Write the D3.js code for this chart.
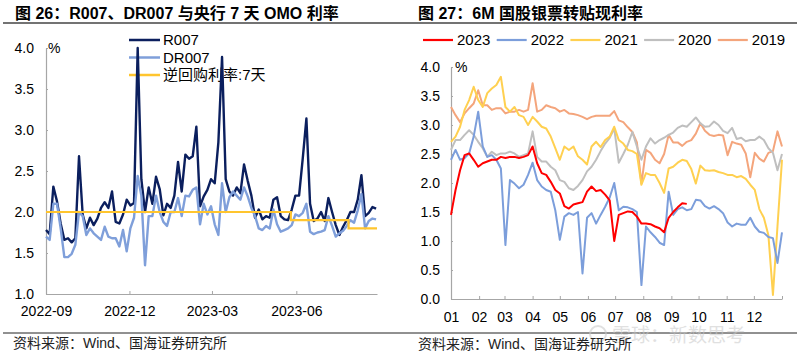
<!DOCTYPE html>
<html><head><meta charset="utf-8">
<script src="https://cdn.jsdelivr.net/npm/d3@7"></script>
<style>
html,body{margin:0;padding:0;background:#fff;}
svg{display:block;}
text{font-family:"Liberation Sans",Arial,"Noto Sans CJK SC",sans-serif;}
</style></head>
<body>
<svg id="c" width="800" height="357"></svg>
<script>
// ---------- Left chart data (every 4 days from 2022-09-01) ----------
const leftStart = "2022-09-01";
const leftStepDays = 4;
const r007 = [1.78,1.73,2.31,2.13,1.86,1.66,1.68,1.63,1.68,2.68,
  1.97,1.80,1.93,1.84,1.92,2.05,2.12,2.05,2.25,1.88,
  1.86,1.97,2.15,2.08,2.11,4.0,2.4,2.0,2.3,2.1,
  2.43,2.28,1.96,2.1,2.05,2.2,2.61,2.25,2.70,2.65,
  2.68,3.04,2.07,2.19,2.27,2.40,2.35,2.85,3.89,2.4,
  2.25,2.2,2.3,2.23,2.58,2.38,2.2,1.93,2.03,1.91,
  1.95,1.93,2.15,2.18,1.95,1.91,1.9,2.03,2.2,2.2,
  2.65,3.14,2.1,1.89,1.92,2.0,1.89,2.17,2.0,1.84,
  1.72,1.82,1.9,2.0,2.0,2.15,2.45,1.95,1.99,2.06,2.04];
const dr007 = [1.70,1.66,2.1,2.1,1.80,1.45,1.45,1.49,1.60,2.0,
  1.95,1.72,1.80,1.74,1.70,1.66,1.82,1.70,1.68,1.68,
  1.58,1.78,1.52,1.80,1.93,2.44,2.2,1.35,1.95,1.95,
  2.2,2.0,1.88,1.83,2.0,2.0,2.17,1.95,2.2,2.19,
  2.27,2.3,1.85,2.1,1.97,2.07,1.85,1.72,2.35,2.0,
  2.18,2.25,2.2,2.15,2.3,2.19,2.05,1.95,1.8,1.78,
  1.83,1.80,2.03,1.85,1.76,1.78,1.80,1.84,1.97,1.95,
  1.99,2.1,1.76,1.73,1.75,1.76,1.78,1.95,1.83,1.7,
  1.74,1.77,1.83,1.9,1.87,2.02,2.22,1.8,1.89,1.92,1.91];
const omoDates = ["2022-09-01","2023-05-26","2023-07-28","2023-08-28"];
const omoValues = [2.0,1.9,1.8,1.8];
const leftTickDates = ["2022-09-01","2022-12-01","2023-03-01","2023-06-01"];
const leftYTicks = [1.0,1.5,2.0,2.5,3.0,3.5,4.0];
const leftLegend = ["R007","DR007","逆回购利率:7天"];

// ---------- Right chart data (every 5 days from Jan 1) ----------
const rightStepDays = 5;
const y2023 = [1.45,1.88,2.22,2.48,2.51,2.40,2.28,2.34,2.37,2.40,
  2.40,2.45,2.43,2.45,2.45,2.43,2.45,2.48,2.63,2.34,
  2.17,2.14,2.02,1.88,1.82,1.6,
  1.56,1.63,1.65,1.67,1.85,1.94,1.86,1.88,1.80,1.70,
  1.0,1.45,1.48,1.51,1.50,1.42,1.30,1.30,1.29,1.25,
  1.22,1.15,1.40,1.50,1.58,1.65,1.64];
const y2022 = [2.40,2.57,2.40,2.43,2.51,2.80,3.23,2.63,2.45,2.48,
  2.40,2.25,0.93,2.05,1.99,1.91,1.97,2.14,2.35,2.05,
  1.94,1.88,1.85,1.53,1.02,1.42,
  1.48,1.45,1.50,0.44,1.40,1.48,1.30,1.45,1.59,1.75,
  2.0,1.53,1.59,1.58,1.55,1.50,0.24,1.25,1.15,1.07,
  0.97,0.93,1.85,1.45,1.55,1.58,1.53,1.55,1.71,1.70,
  1.60,1.56,1.60,1.55,1.48,1.32,1.25,1.30,1.28,1.28,
  1.40,1.25,1.16,1.14,1.07,1.05,0.62,1.15];
const y2021 = [2.71,2.80,2.97,3.26,3.43,3.66,3.43,3.31,3.55,3.63,
  3.69,3.83,3.31,3.23,3.31,3.17,3.14,3.0,3.14,3.06,
  2.97,2.94,2.80,2.60,2.40,2.63,
  2.57,2.63,2.46,2.40,2.32,2.63,2.71,2.62,2.74,2.80,
  2.97,2.74,2.68,2.57,2.55,2.50,1.97,2.17,2.14,2.14,
  2.0,1.83,2.25,2.28,2.35,2.40,2.38,2.24,1.99,2.30,
  2.22,2.21,2.22,2.19,2.17,2.14,2.14,2.10,2.12,2.07,
  1.97,1.88,1.55,1.40,1.10,0.07,1.25,2.40];
const y2020 = [2.57,2.74,2.74,2.83,2.91,2.83,2.71,2.60,2.45,2.54,
  2.48,2.51,2.51,2.54,2.51,2.45,2.48,2.51,2.89,2.45,
  2.37,2.37,2.28,2.22,2.05,2.02,
  1.91,1.88,1.95,2.05,2.20,2.28,2.40,2.55,2.68,2.78,
  2.94,2.35,2.50,2.66,2.88,2.63,2.40,2.63,2.77,2.68,
  2.74,2.78,2.83,2.87,2.95,2.99,2.97,3.05,3.13,3.03,
  2.97,2.98,3.06,3.0,2.90,2.86,2.95,2.76,2.78,2.72,
  2.74,2.74,2.80,2.74,2.60,2.52,2.22,2.50];
const y2019 = [3.31,3.17,3.05,3.20,3.29,3.37,3.60,3.34,3.34,3.26,
  3.29,3.29,3.20,3.23,3.23,3.26,3.23,3.26,3.72,3.23,
  3.26,3.34,3.31,3.29,3.23,3.26,
  3.20,3.19,3.17,3.14,3.10,3.14,3.16,3.16,3.16,3.16,
  3.24,3.08,3.05,2.96,2.88,2.70,1.99,2.57,2.52,2.40,
  2.34,2.50,2.83,2.70,2.70,2.64,2.71,2.74,2.85,3.03,
  2.90,2.83,2.81,2.83,2.82,2.48,2.71,2.68,2.66,2.51,
  2.10,2.52,2.42,2.37,2.52,2.55,2.89,2.63];
const rightSeriesNames = ["2023","2022","2021","2020","2019"];
const rightYTicks = [0.0,0.5,1.0,1.5,2.0,2.5,3.0,3.5,4.0];
const rightMonths = ["01","02","03","04","05","06","07","08","09","10","11","12"];

// ---------- Drawing ----------
const svg = d3.select("#c");
const parse = d3.timeParse("%Y-%m-%d");
const AX = "#a6a6a6";

// titles and rules
svg.append("text").attr("x",15).attr("y",19).attr("font-size",16).attr("font-weight","bold")
  .text("图 26：R007、DR007 与央行 7 天 OMO 利率");
svg.append("text").attr("x",418).attr("y",19).attr("font-size",16).attr("font-weight","bold")
  .text("图 27：6M 国股银票转贴现利率");
svg.append("line").attr("x1",3).attr("x2",797).attr("y1",23).attr("y2",23).attr("stroke","#444").attr("stroke-width",1.5);
svg.append("line").attr("x1",3).attr("x2",797).attr("y1",333).attr("y2",333).attr("stroke","#222").attr("stroke-width",1);

// watermark
const wm = svg.append("g").attr("opacity",0.55);
wm.append("circle").attr("cx",598).attr("cy",334).attr("r",8).attr("fill","none").attr("stroke","#c8c8c8").attr("stroke-width",2);
wm.append("text").attr("x",612).attr("y",342).attr("font-size",19).attr("fill","#c8c8c8").text("雪球：新数思考");

svg.append("text").attr("x",13).attr("y",348).attr("font-size",14).attr("fill","#222").text("资料来源：Wind、国海证券研究所");
svg.append("text").attr("x",418).attr("y",349).attr("font-size",14).attr("fill","#222").text("资料来源：Wind、国海证券研究所");

function styleAxis(g){
  g.select(".domain").attr("stroke",AX).attr("stroke-width",1.2);
  g.selectAll(".tick line").attr("stroke",AX);
  g.selectAll(".tick text").attr("font-size",14).attr("fill","#000")
    .attr("font-family",'"Liberation Sans",Arial,sans-serif');
}

// ===== Left chart =====
const leftDates = r007.map((_,i)=>d3.timeDay.offset(parse(leftStart), i*leftStepDays));
const xL = d3.scaleTime().domain([parse("2022-09-01"), parse("2023-08-28")]).range([46,377]);
const yL = d3.scaleLinear().domain([1,4]).range([294,48]);

svg.append("g").attr("transform","translate(0,294)")
  .call(d3.axisBottom(xL).tickValues(leftTickDates.map(parse)).tickFormat(d3.timeFormat("%Y-%m"))
    .tickSizeInner(-3).tickSizeOuter(0).tickPadding(12))
  .call(styleAxis);
svg.append("g").attr("transform","translate(46,0)")
  .call(d3.axisLeft(yL).tickValues(leftYTicks).tickFormat(d3.format(".1f"))
    .tickSizeInner(-2).tickSizeOuter(0).tickPadding(12))
  .call(styleAxis);
svg.append("text").attr("x",48).attr("y",yL(4)).attr("dy","0.35em").attr("font-size",14).text("%");

const leftColors = ["#0b1f5e","#7f9fda","#ffc52e"];
// legend (behind lines)
leftLegend.forEach((name,i)=>{
  const ly = 40 + i*17.5;
  svg.append("line").attr("x1",129).attr("x2",160).attr("y1",ly).attr("y2",ly)
    .attr("stroke",leftColors[i]).attr("stroke-width",2.5);
  svg.append("text").attr("x",163).attr("y",ly).attr("dy","0.36em").attr("font-size",15).text(name);
});

const lineL = d3.line().x(d=>xL(d[0])).y(d=>yL(d[1]));
svg.append("path").datum(leftDates.map((d,i)=>[d,r007[i]])).attr("d",lineL)
  .attr("fill","none").attr("stroke",leftColors[0]).attr("stroke-width",2.4).attr("stroke-linejoin","round");
svg.append("path").datum(leftDates.map((d,i)=>[d,dr007[i]])).attr("d",lineL)
  .attr("fill","none").attr("stroke",leftColors[1]).attr("stroke-width",2.4).attr("stroke-linejoin","round");
svg.append("path").datum(omoDates.map((d,i)=>[parse(d),omoValues[i]]))
  .attr("d",d3.line().curve(d3.curveStepAfter).x(d=>xL(d[0])).y(d=>yL(d[1])))
  .attr("fill","none").attr("stroke",leftColors[2]).attr("stroke-width",2.2);

// ===== Right chart =====
const xR = d3.scaleTime().domain([new Date(2023,0,1), new Date(2024,0,1)]).range([451,782]);
const yR = d3.scaleLinear().domain([0,4]).range([299,67]);
const monthTicks = d3.range(0,13).map(m=>new Date(2023,m,1));

svg.append("g").attr("transform","translate(0,299)")
  .call(d3.axisBottom(xR).tickValues(monthTicks).tickFormat((d,i)=> i<12 ? rightMonths[i] : "")
    .tickSizeInner(-3).tickSizeOuter(0).tickPadding(13))
  .call(styleAxis);
svg.append("g").attr("transform","translate(451,0)")
  .call(d3.axisLeft(yR).tickValues(rightYTicks).tickFormat(d3.format(".1f"))
    .tickSizeInner(-2).tickSizeOuter(0).tickPadding(11))
  .call(styleAxis);
svg.append("text").attr("x",455).attr("y",yR(4)).attr("dy","0.35em").attr("font-size",14).text("%");

const rightColors = ["#ff0000","#7c9edb","#ffd050","#bfbfbf","#f4a57c"];
const rightData = [y2023,y2022,y2021,y2020,y2019];
rightSeriesNames.forEach((name,i)=>{
  const lx = 423 + i*73.7;
  svg.append("line").attr("x1",lx).attr("x2",lx+30).attr("y1",40).attr("y2",40)
    .attr("stroke",rightColors[i]).attr("stroke-width",2.2);
  svg.append("text").attr("x",lx+34).attr("y",40).attr("dy","0.36em").attr("font-size",15).text(name);
});
const lineR = d3.line().x(d=>xR(d[0])).y(d=>yR(d[1]));
[4,3,2,1,0].forEach(s=>{
  const pts = rightData[s].map((v,k)=>[d3.timeDay.offset(new Date(2023,0,1), k*rightStepDays), v]);
  svg.append("path").datum(pts).attr("d",lineR).attr("fill","none")
    .attr("stroke",rightColors[s]).attr("stroke-width",2).attr("stroke-linejoin","round");
});
</script>
</body></html>
